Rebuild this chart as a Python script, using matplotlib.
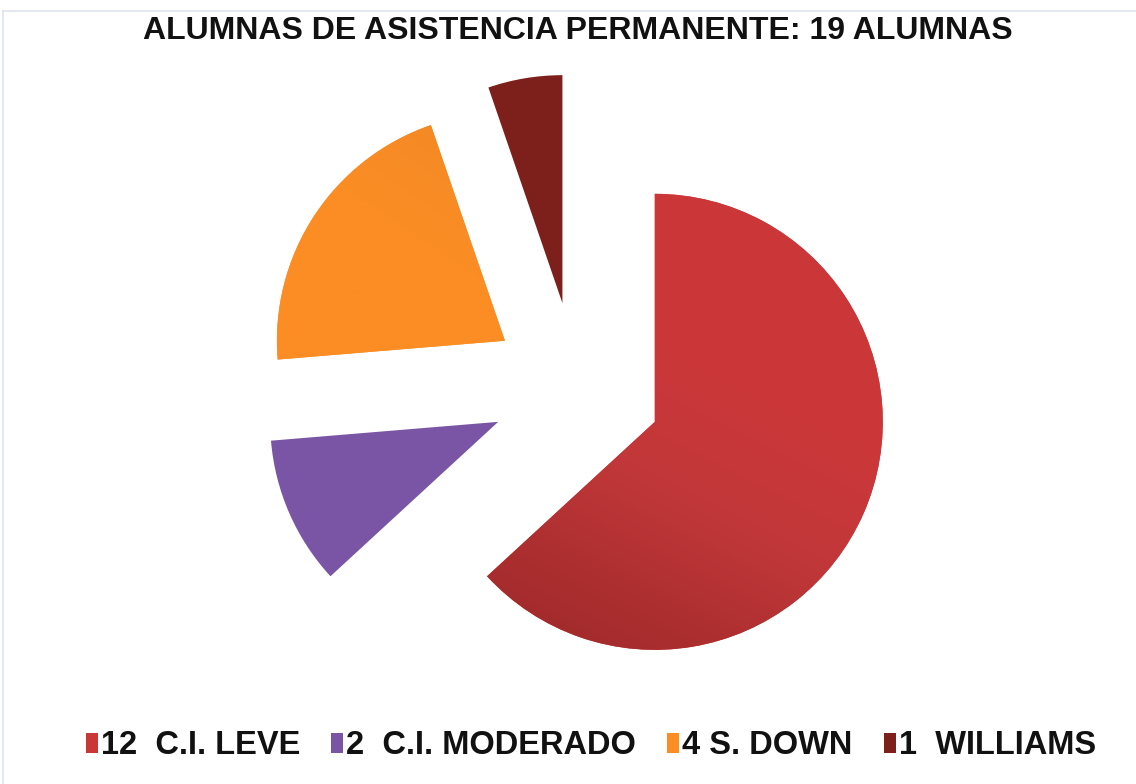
import numpy as np
import matplotlib
matplotlib.use("Agg")
import matplotlib.pyplot as plt
from matplotlib.colors import LinearSegmentedColormap
from matplotlib.lines import Line2D

# ---- data ----
values = [12, 2, 4, 1]
labels = ['12  C.I. LEVE', '2  C.I. MODERADO', '4 S. DOWN', '1  WILLIAMS']
colors = ['#CB3739', '#7A55A5', '#FB8D24', '#7D1F1A']
title = 'ALUMNAS DE ASISTENCIA PERMANENTE: 19 ALUMNAS'

plt.rcParams['font.family'] = ['Liberation Sans', 'DejaVu Sans']

W, H = 1136, 784
fig = plt.figure(figsize=(W / 100, H / 100), dpi=100)
ax = fig.add_axes([0, 0, 1, 1])

R = 228.0
cx, cy = 576.5, 387.5  # pie centre in image pixels (y down)

wedges, _ = ax.pie(values, colors=colors, startangle=90, counterclock=False,
                   explode=[0.375] * len(values), radius=1,
                   wedgeprops=dict(linewidth=0))
ax.set_aspect('auto')
ax.set_xlim(-cx / R, (W - cx) / R)
ax.set_ylim(-(H - cy) / R, cy / R)
ax.axis('off')

# subtle gradient shading on the big slice
xs = np.linspace(-0.5, 2.0, 300)
ys = np.linspace(-1.6, 1.2, 300)
X, Y = np.meshgrid(xs, ys)
t = np.clip((-Y * 0.7 - (X - 1.0) * 0.35 - 0.1) / 1.2, 0, 1)
cmap1 = LinearSegmentedColormap.from_list('r', ['#CB3739', '#C2383A', '#AE2F30', '#9C292A'])
im = ax.imshow(t, extent=(xs[0], xs[-1], ys[0], ys[-1]), origin='lower',
               cmap=cmap1, vmin=0, vmax=1, interpolation='bilinear', zorder=3)
im.set_clip_path(wedges[0])

# subtle shading on the orange slice (darker toward its apex/top)
xs2 = np.linspace(-2.0, 0.2, 200)
ys2 = np.linspace(-0.6, 1.8, 200)
X2, Y2 = np.meshgrid(xs2, ys2)
t2 = np.clip((Y2 - 0.6) * 0.9 + (X2 + 0.6) * 0.6, 0, 1)
cmap2 = LinearSegmentedColormap.from_list('o', ['#FB8D24', '#F48A26', '#E6822A'])
im2 = ax.imshow(t2, extent=(xs2[0], xs2[-1], ys2[0], ys2[-1]), origin='lower',
                cmap=cmap2, vmin=0, vmax=1, interpolation='bilinear', zorder=3)
im2.set_clip_path(wedges[2])

# title
fig.text(578 / W, 1 - 31 / H, title, ha='center', va='center',
         fontsize=23, fontweight='bold', color='#111111')

# legend
leg = ax.legend(wedges, labels, loc='center', bbox_to_anchor=(591 / W, 1 - 746 / H),
                bbox_transform=fig.transFigure, ncol=4, frameon=False,
                fontsize=23.5, handlelength=0.36, handleheight=0.55,
                handletextpad=0.1, columnspacing=0.95, borderaxespad=0)
for txt in leg.get_texts():
    txt.set_fontweight('bold')
    txt.set_color('#111111')

# light frame lines
fig.add_artist(Line2D([3 / W, 1], [1 - 11 / H, 1 - 11 / H], transform=fig.transFigure,
                      color='#DDE3EE', lw=1.2))
fig.add_artist(Line2D([3 / W, 3 / W], [0, 1 - 11 / H], transform=fig.transFigure,
                      color='#DDE3EE', lw=1.2))

fig.savefig('out.png', dpi=100, facecolor='white')
